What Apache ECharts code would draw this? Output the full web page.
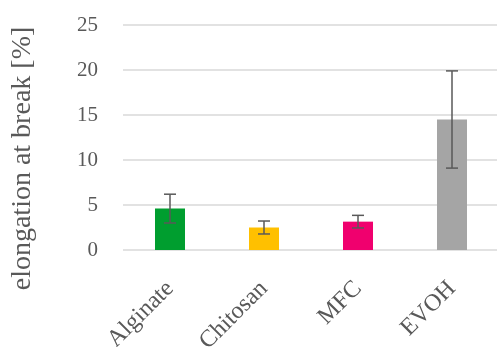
<!DOCTYPE html>
<html>
<head>
  <meta charset="utf-8">
  <title>Elongation at break</title>
  <script src="https://cdn.jsdelivr.net/npm/echarts/dist/echarts.min.js"></script>
  <style>
    html, body { margin: 0; padding: 0; background: #fff; }
    #main { width: 497px; height: 347px; }
  </style>
</head>
<body>
<div id="main"></div>
<script>
  const categories = ['Alginate', 'Chitosan', 'MFC', 'EVOH'];
  const values = [4.6, 2.5, 3.15, 14.5];
  const errors = [1.6, 0.72, 0.7, 5.4];
  const colors = ['#009E2F', '#FFC000', '#F0006E', '#A5A5A5'];

  const font = '"Liberation Serif", "DejaVu Serif", serif';

  const myChart = echarts.init(document.getElementById('main'));

  const option = {
    animation: false,
    grid: { left: 123, right: -2, top: 25, bottom: 97, outerBoundsMode: 'none' },
    xAxis: {
      type: 'category',
      data: categories,
      axisLine: { show: false },
      axisTick: { show: false },
      axisLabel: {
        rotate: 45,
        margin: 35,
        fontFamily: font,
        fontSize: 24,
        color: '#595959'
      }
    },
    yAxis: {
      type: 'value',
      min: 0,
      max: 25,
      interval: 5,
      name: 'elongation at break [%]',
      nameLocation: 'middle',
      nameGap: 86,
      nameTextStyle: { fontFamily: font, fontSize: 28, color: '#595959', padding: [0, 42, 0, 0] },
      axisLine: { show: false },
      axisTick: { show: false },
      axisLabel: { margin: 25, fontFamily: font, fontSize: 21, color: '#595959' },
      splitLine: { lineStyle: { color: '#D9D9D9', width: 1.5 } }
    },
    series: [
      {
        type: 'bar',
        barWidth: 30,
        data: values.map((v, i) => ({ value: v, itemStyle: { color: colors[i] } }))
      },
      {
        type: 'custom',
        z: 10,
        data: values.map((v, i) => [i, v - errors[i], v + errors[i]]),
        renderItem: function (params, api) {
          const lo = api.coord([api.value(0), api.value(1)]);
          const hi = api.coord([api.value(0), api.value(2)]);
          const w = 6;
          const style = { stroke: '#595959', lineWidth: 1.5 };
          return {
            type: 'group',
            children: [
              { type: 'line', shape: { x1: hi[0], y1: hi[1], x2: lo[0], y2: lo[1] }, style: style },
              { type: 'line', shape: { x1: hi[0] - w, y1: hi[1], x2: hi[0] + w, y2: hi[1] }, style: style },
              { type: 'line', shape: { x1: lo[0] - w, y1: lo[1], x2: lo[0] + w, y2: lo[1] }, style: style }
            ]
          };
        }
      }
    ]
  };

  myChart.setOption(option);
</script>
</body>
</html>
